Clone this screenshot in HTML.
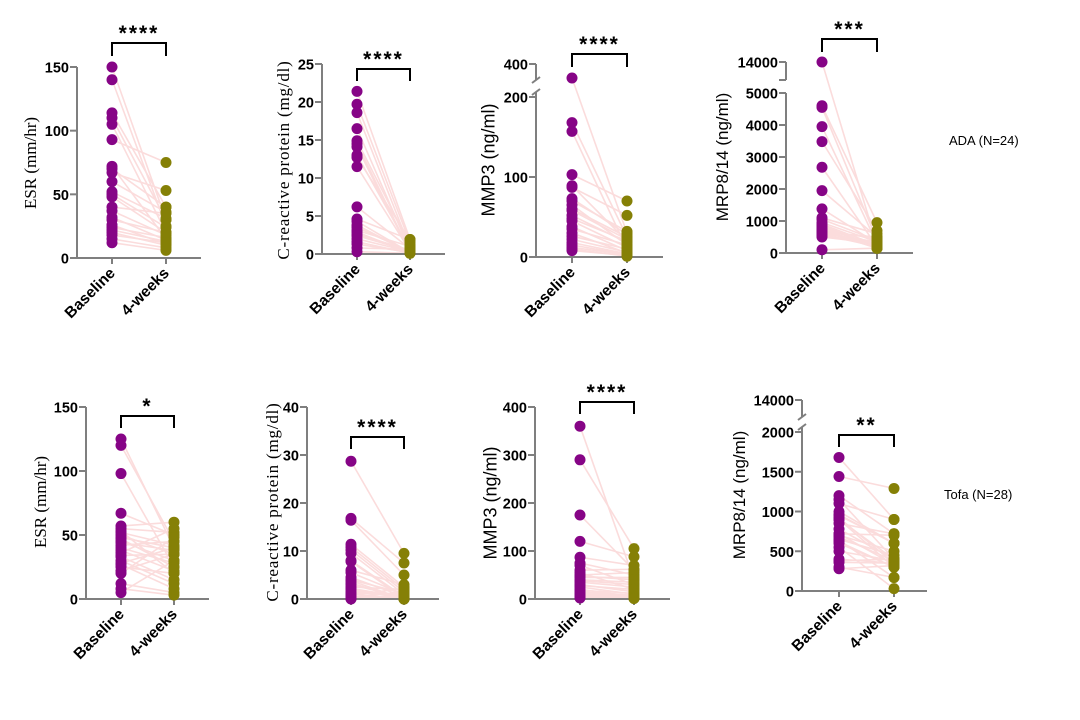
<!DOCTYPE html>
<html><head><meta charset="utf-8"><style>
html,body{margin:0;padding:0;background:#fff;width:1080px;height:720px;overflow:hidden}
svg text{font-family:"Liberation Sans",Arial,sans-serif}
</style></head><body>
<svg id="chart" width="1080" height="720" xmlns="http://www.w3.org/2000/svg">
<text x="949" y="145" font-size="13">ADA (N=24)</text>
<text x="944" y="499" font-size="13">Tofa (N=28)</text>
</svg>
<script>
// ---- data ----
const groups = ["Baseline", "4-weeks"];
const esrAdaBase = [150,140,114,110,105,93,72,70,67,60,52,50,48,37,32,26,24,22,20,12,40,30,18,15];
const esrAdaWk4  = [30,25,40,30,20,75,15,40,53,36,31,24,20,18,14,11,16,13,10,6,35,20,12,8];
const crpAdaBase = [21.4,19.7,18.6,16.5,14.9,14.5,14.1,13,12.7,11.5,6.2,4.6,4.3,3.5,3.1,2.9,2.6,1.3,0.3,2.4,2,0.8,3.8,1.6];
const crpAdaWk4  = [1.9,1.5,0.8,0.5,1.2,0.3,0.2,0.6,1.8,0.4,0.7,1.9,0.2,0.3,1.0,0.1,0.5,0.2,0.1,0.4,0.3,0.6,0.2,0.1];
const mmpAdaBase = [315,168,157,103,89,87,73,70,65,58,52,45,38,30,26,18,12,8,60,48,35,22,15,10];
const mmpAdaWk4  = [30,25,10,70,20,52,28,32,15,22,18,12,8,5,10,4,3,2,25,20,15,6,3,1];
const mrpAdaBase = [14000,4600,4550,3950,3480,2680,1950,1380,1050,850,750,650,550,100,600,700,800,900,500,650,1100,950,700,580];
const mrpAdaWk4  = [250,950,400,300,700,200,500,300,400,200,150,250,300,150,350,450,200,250,300,500,600,350,150,200];
const esrTofaBase = [125,120,98,67,57,55,53,50,48,45,42,40,38,36,34,30,28,25,22,20,12,8,5,52,47,33,27,44];
const esrTofaWk4  = [40,45,25,50,60,52,20,35,40,30,45,28,22,55,35,12,40,20,35,48,5,3,30,42,25,15,8,38];
const crpTofaBase = [28.7,16.8,16.4,11.4,10.8,10.2,9.5,8,7.8,6,5.5,4.5,3.8,3,2.5,2,1.5,1,0.5,0.2,0,0.3,1.2,2.2,3.3,0.8,0.1,4];
const crpTofaWk4  = [9.5,7.5,5,2.5,2,1.5,1,0.5,0.2,3,1,0.5,0,0.3,2,0.1,1,0,0.5,0.2,0,1.5,0.8,0.4,0.1,2.2,0,1.2];
const mmpTofaBase = [360,290,175,120,87,75,70,55,50,45,40,35,30,25,20,15,10,5,3,60,48,38,28,18,12,8,4,2];
const mmpTofaWk4  = [40,105,60,88,70,50,30,20,55,45,35,25,15,10,5,8,3,2,1,62,40,30,20,12,6,4,2,1];
const mrpTofaBase = [1680,1440,1200,1150,960,920,900,720,680,640,550,380,360,280,700,650,1000,900,600,500,720,850,1100,950,400,300,780,620];
const mrpTofaWk4  = [900,1290,720,400,600,350,300,700,380,170,30,400,350,320,500,450,600,400,300,380,330,720,900,600,350,170,400,300];
const ticksESR = [0,50,100,150];
const ticksCRP1 = [0,5,10,15,20,25];
const ticksCRP2 = [0,10,20,30,40];
const ticksMMP1 = [0,100,200,400];
const ticksMMP2 = [0,100,200,300,400];
const ticksMRP1 = [0,1000,2000,3000,4000,5000,14000];
const ticksMRP2 = [0,500,1000,1500,2000,14000];

const svg = document.getElementById('chart');
const NS = 'http://www.w3.org/2000/svg';
function mk(tag, attrs, parent){const e=document.createElementNS(NS,tag);for(const k in attrs)e.setAttribute(k,attrs[k]);(parent||svg).appendChild(e);return e;}
function lin(v0,p0,v1,p1){return v=>p0+(v-v0)*(p1-p0)/(v1-v0);}

const panels = [
 {id:'esr-ada',ax:77,xb:112,xw:166,xe:201,yTop:67,yBot:258,y:lin(0,258,150,67),ticks:ticksESR,base:esrAdaBase,wk:esrAdaWk4,title:'ESR (mm/hr)',serif:true,fs:17,ls:0,tx:30,ty:163,stars:'****',bt:43,bb:56},
 {id:'crp-ada',ax:322,xb:357,xw:410,xe:445,yTop:64,yBot:254,y:lin(0,254,25,64),ticks:ticksCRP1,base:crpAdaBase,wk:crpAdaWk4,title:'C-reactive protein (mg/dl)',serif:true,fs:17,ls:0.8,tx:283,ty:160,stars:'****',bt:69,bb:81},
 {id:'mmp3-ada',ax:536,xb:572,xw:627,xe:663,yTop:64,yBot:257,y:v=>v<=200?257-0.8*v:97-(v-200)*33/200,ticks:ticksMMP1,base:mmpAdaBase,wk:mmpAdaWk4,title:'MMP3 (ng/ml)',serif:false,fs:18,ls:0,tx:488,ty:160,stars:'****',bt:54,bb:67,brk:[80,92],brkStyle:'slash'},
 {id:'mrp-ada',ax:786,xb:822,xw:877,xe:913,yTop:62,yBot:253,y:v=>v<=5000?253-0.032*v:80-(v-9000)*18/5000,ticks:ticksMRP1,base:mrpAdaBase,wk:mrpAdaWk4,title:'MRP8/14 (ng/ml)',serif:false,fs:17,ls:0,tx:722,ty:157,stars:'***',bt:39,bb:52,brk:[80,93],brkStyle:'tick'},
 {id:'esr-tofa',ax:86,xb:121,xw:174,xe:209,yTop:407,yBot:599,y:lin(0,599,150,407),ticks:ticksESR,base:esrTofaBase,wk:esrTofaWk4,title:'ESR (mm/hr)',serif:true,fs:17,ls:0,tx:40,ty:502,stars:'*',bt:416,bb:428},
 {id:'crp-tofa',ax:307,xb:351,xw:404,xe:439,yTop:407,yBot:599,y:lin(0,599,40,407),ticks:ticksCRP2,base:crpTofaBase,wk:crpTofaWk4,title:'C-reactive protein (mg/dl)',serif:true,fs:17,ls:0.8,tx:272,ty:502,stars:'****',bt:437,bb:449},
 {id:'mmp3-tofa',ax:535,xb:580,xw:634,xe:670,yTop:407,yBot:599,y:lin(0,599,400,407),ticks:ticksMMP2,base:mmpTofaBase,wk:mmpTofaWk4,title:'MMP3 (ng/ml)',serif:false,fs:18,ls:0,tx:490,ty:503,stars:'****',bt:402,bb:414},
 {id:'mrp-tofa',ax:802,xb:839,xw:894,xe:927,yTop:400,yBot:591,y:v=>v<=2000?591-0.0795*v:400,ticks:ticksMRP2,base:mrpTofaBase,wk:mrpTofaWk4,title:'MRP8/14 (ng/ml)',serif:false,fs:17,ls:0,tx:739,ty:495,stars:'**',bt:435,bb:447,brk:[417,427],brkStyle:'slash'}
];

panels.forEach(p=>{
  const g = mk('g',{});
  
  
  p.base.forEach((b,i)=>{
    const l = mk('line',{x1:p.xb,y1:p.y(b),x2:p.xw,y2:p.y(p.wk[i]),stroke:'#fbdcdc','stroke-width':1.6},g);
    
    
  });
  const axg = mk('g',{stroke:'#7f7f7f','stroke-width':2,fill:'none'},g);
  
  
  if(p.brk){
    mk('line',{x1:p.ax,y1:p.yTop,x2:p.ax,y2:p.brk[0]},axg);
    mk('line',{x1:p.ax,y1:p.brk[1],x2:p.ax,y2:p.yBot},axg);
    if(p.brkStyle==='slash'){
      mk('line',{x1:p.ax-4,y1:p.brk[0]+3,x2:p.ax+4,y2:p.brk[0]-3},axg);
      mk('line',{x1:p.ax-4,y1:p.brk[1]+3,x2:p.ax+4,y2:p.brk[1]-3},axg);
    } else {
      mk('line',{x1:p.ax-7,y1:p.brk[0],x2:p.ax,y2:p.brk[0]},axg);
      mk('line',{x1:p.ax-7,y1:p.brk[1],x2:p.ax,y2:p.brk[1]},axg);
    }
  } else {
    mk('line',{x1:p.ax,y1:p.yTop,x2:p.ax,y2:p.yBot},axg);
  }
  mk('line',{x1:p.ax-1,y1:p.yBot,x2:p.xe,y2:p.yBot},axg);
  [p.xb,p.xw].forEach(x=>mk('line',{x1:x,y1:p.yBot,x2:x,y2:p.yBot+6},axg));
  p.ticks.forEach(t=>{
    const yy=p.y(t);
    mk('line',{x1:p.ax-7,y1:yy,x2:p.ax,y2:yy},axg);
    const tx = mk('text',{x:p.ax-8,y:yy+5.5,'text-anchor':'end','font-size':14.5,'font-weight':'bold',fill:'#000'},g);
    tx.textContent=t;
    
    
  });
  groups.forEach((c,i)=>{
    const x=i?p.xw:p.xb;
    const tx = mk('text',{x:x+4,y:p.yBot+16,'text-anchor':'end','font-size':15.5,'font-weight':'bold',fill:'#000',transform:`rotate(-45 ${x+4} ${p.yBot+16})`},g);
    tx.textContent=c;
    
    
  });
  const tt = mk('text',{x:p.tx,y:p.ty,'text-anchor':'middle','font-size':p.fs,fill:'#000','letter-spacing':p.ls,transform:`rotate(-90 ${p.tx} ${p.ty})`,dy:'0.35em'},g);
  if(p.serif) tt.setAttribute('style','font-family:"Liberation Serif",serif');
  tt.textContent=p.title;
  
  
  p.base.forEach(v=>{
    const c=mk('circle',{cx:p.xb,cy:p.y(v),r:5.5,fill:'#860486'},g);
    
    
  });
  p.wk.forEach(v=>{
    const c=mk('circle',{cx:p.xw,cy:p.y(v),r:5.5,fill:'#858006'},g);
    
    
  });
  const br = mk('path',{d:`M${p.xb},${p.bb}V${p.bt}H${p.xw}V${p.bb}`,stroke:'#000','stroke-width':2,fill:'none'},g);
  
  
  const st = mk('text',{x:(p.xb+p.xw)/2,y:p.bt-3,'text-anchor':'middle','font-size':21,'font-weight':'bold',fill:'#000','letter-spacing':'2'},g);
  st.textContent=p.stars;
  
  
});
</script>
</body></html>
